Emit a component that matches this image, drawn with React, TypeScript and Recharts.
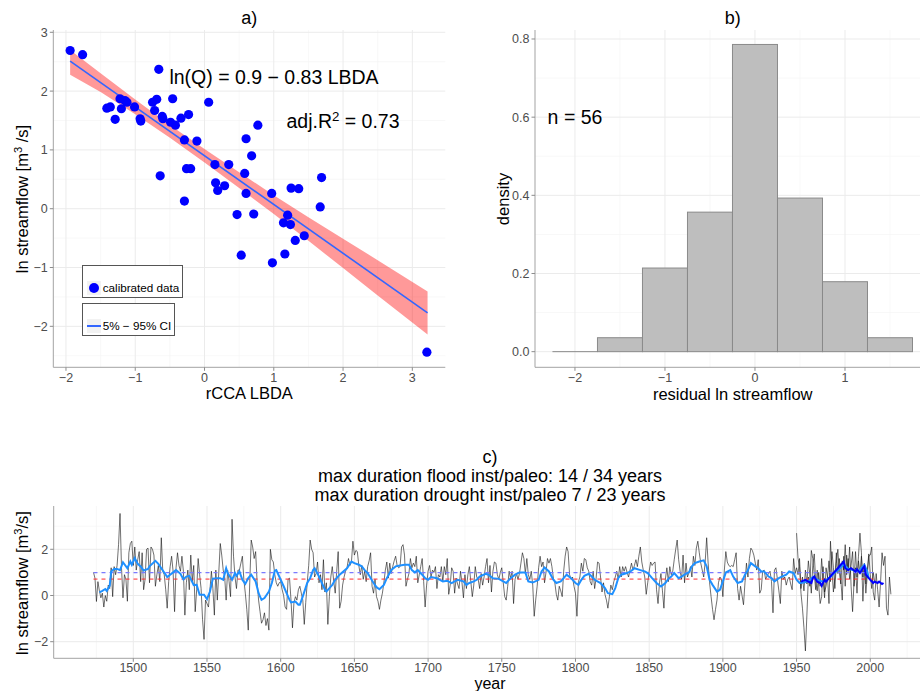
import React from 'react';
import {
  ComposedChart, Scatter, Area, Line, Bar, XAxis, YAxis, CartesianGrid,
} from 'recharts';

const FONT = '"Liberation Sans", Arial, Helvetica, sans-serif';
const BORDER = '#a3a3a3';
const TICK = '#8c8c8c';
const TICK_TEXT = '#4d4d4d';
const GRID_MAJOR = '#ebebeb';
const GRID_MINOR = '#f5f5f5';

// a) calibration scatter
const lbda = [
  -1.94, -1.76, -0.66, -1.41, -1.36, -1.29, -1.2, -1.22, -1.15, -1.12,
  -1.01, -0.93, -0.92, -0.75, -0.69, -0.72, -0.61, -0.6, -0.46, -0.49,
  -0.42, -0.34, -0.23, -0.29, -0.11, 0.06, -0.64, -0.26, -0.2, -0.29,
  0.15, 0.35, 0.16, 0.19, 0.29, 0.6, 0.77, 0.68, 0.58, 0.6,
  0.47, 0.71, 0.53, 0.97, 0.98, 1.16, 1.25, 1.36, 1.14, 1.2,
  1.24, 1.31, 1.44, 1.69, 1.67, 3.21,
];
const lnQ = [
  2.69, 2.62, 2.37, 1.71, 1.73, 1.52, 1.7, 1.87, 1.84, 1.81,
  1.73, 1.53, 1.49, 1.81, 1.86, 1.67, 1.57, 1.53, 1.87, 1.47,
  1.42, 1.54, 1.6, 1.17, 1.15, 1.81, 0.56, 0.68, 0.68, 0.13,
  0.75, 0.75, 0.44, 0.31, 0.39, 1.19, 1.42, 0.9, 0.6, 0.26,
  -0.1, -0.09, -0.79, 0.26, -0.92, -0.77, 0.35, 0.34, -0.24, -0.11,
  -0.27, -0.54, -0.46, 0.53, 0.03, -2.44,
];
const fitX = [-1.94, 3.22];
const fitY = [2.51, -1.77];
const ciX = [-1.94, -1.5, -1, -0.5, 0, 0.5, 1, 1.5, 2, 2.5, 3.22];
const ciLow = [2.28, 1.985, 1.605, 1.205, 0.785, 0.35, -0.09, -0.545, -1.01, -1.475, -2.14];
const ciHigh = [2.7, 2.305, 1.855, 1.425, 1.015, 0.62, 0.23, -0.145, -0.51, -0.875, -1.41];
const aTicksX = [-2, -1, 0, 1, 2, 3];
const aMinorX = [-1.5, -0.5, 0.5, 1.5, 2.5];
const aTicksY = [-2, -1, 0, 1, 2, 3];
const aMinorY = [-2.5, -1.5, -0.5, 0.5, 1.5, 2.5];

// b) residual histogram
const binMid = [-2, -1.5, -1, -0.5, 0, 0.5, 1, 1.5];
const binDensity = [0, 0.0357, 0.214, 0.357, 0.786, 0.393, 0.179, 0.0357];
const bTicksX = [-2, -1, 0, 1];
const bMinorX = [-1.5, -0.5, 0.5, 1.5];
const bTicksY = [0, 0.2, 0.4, 0.6, 0.8];
const bMinorY = [0.1, 0.3, 0.5, 0.7];

// c) reconstruction
const paleoStart = 1473;
const paleoFlow = [
  1.0, 0.75, -0.26, 0.6, 0.2, -0.1, 0.1,
  -0.5, 0.0, -0.25, 0.45, 0.3, 1.2, -0.05, 1.25, 0.9, 1.3,
  2.2, 3.55, 1.2, -0.1, 0.9, 0.7, -0.25, 1.85, 2.25, 2.35,
  1.3, 2.1, 1.1, 1.55, 1.9, 0.6, 1.85, 0.25, 0.7, 2.0,
  2.05, 0.55, 2.1, 2.0, 1.75, 0.4, 0.9, 1.3, 0.6, 2.5,
  1.05, 0.9, 0.25, -0.55, 0.6, 1.25, 1.7, 1.05, -0.7, 1.2,
  1.85, 1.3, 1.05, 1.7, 1.05, -0.85, 0.55, 1.1, 0.25, 1.75,
  0.6, 1.3, -0.7, 0.25, 1.6, 0.9, 0.3, -1.05, -1.9, -0.2,
  -0.35, -0.5, 0.25, 1.05, 0.3, -0.85, 1.1, -0.2, 1.0, 2.25,
  1.75, 1.1, 0.8, -0.2, 1.1, 0.6, -0.05, 3.3, 1.7, 0.8,
  0.3, 1.1, 1.1, 1.4, 1.7, 0.7, 0.1, -0.6, -1.5, 0.55,
  2.4, 2.1, 1.6, 1.9, 0.6, -0.2, -0.7, -1.2, -1.05, -0.75,
  -1.3, -1.0, -1.5, 2.0, 1.55, 1.45, 0.9, 0.55, 0.4, 0.55,
  0.6, 0.25, 0.0, -0.5, -0.6, 0.7, 0.75, -0.2, -1.4, -0.3,
  -0.05, -0.2, 0.25, 0.4, 0.1, -0.2, -1.25, -0.3, 0.55, 1.3,
  2.4, 2.0, 1.85, 0.8, 0.95, 1.45, 0.55, 0.9, 0.25, 1.55,
  0.15, 0.55, -1.25, -0.05, 0.8, 1.25, 0.6, 0.1, 1.05, 1.9,
  -0.55, -0.25, 0.45, 0.8, 1.05, 1.2, 1.6, 1.3, 1.45, 2.35,
  1.75, 1.95, 1.9, 1.3, 0.9, 1.3, 0.7, 1.05, 0.6, 1.25,
  1.5, 1.85, 0.4, 0.1, 0.7, -0.05, -0.25, -0.6, -0.2, 0.1,
  0.55, 1.1, 1.45, 0.75, 1.4, 0.95, 1.25, 1.5, 1.7, 1.3,
  1.2, 1.25, 2.1, 2.2, 1.75, 0.4, 0.7, 0.95, 1.6, 1.2,
  1.4, 1.25, 1.7, 0.55, 0.9, 1.25, 1.6, 0.6, -0.5, 0.45,
  1.05, 1.3, 0.8, 1.1, 1.0, 1.25, 0.3, 0.9, 0.8, 1.25,
  0.6, 1.25, 0.9, 1.6, 0.05, 0.45, 1.2, 1.05, 0.1, 0.75,
  0.5, 0.3, 1.05, 0.55, -0.1, 0.9, 0.3, 0.9, 1.25, 0.6,
  -0.05, 0.45, 1.25, 0.8, 0.7, 0.3, 0.95, 0.45, 0.8, 1.25,
  1.6, 0.55, 1.3, 0.15, 1.05, 1.45, 1.4, 0.9, 0.7, 1.0,
  1.2, 0.55, -0.05, -0.2, 0.4, 1.05, 0.75, 1.05, -0.35, 0.7,
  0.95, 0.7, 0.95, 1.4, 1.85, 1.6, 0.95, 1.6, 0.9, 0.7,
  1.05, 0.45, -0.9, -0.2, 0.4, 1.2, 1.7, 1.25, 1.45, 0.55,
  1.0, 1.6, 1.4, 1.6, 1.25, 0.75, 0.55, 0.05, -0.2, 0.4,
  0.2, -0.05, 1.05, 1.7, 2.1, 1.9, 0.9, 0.7, 0.8, 0.4,
  0.1, -0.9, 0.6, 0.8, 1.4, 1.05, 1.6, 1.55, 1.2, 1.05,
  0.6, 0.45, 1.05, 0.3, 0.75, 1.45, 1.4, 0.8, 0.15, 0.55,
  0.05, -0.2, -0.55, -0.05, 0.45, 0.25, 0.6, 0.8, 1.05, 0.7,
  1.25, 0.8, 1.25, 1.05, 1.25, 1.0, 0.8, 1.1, 1.4, 1.1,
  1.3, 1.55, 1.25, 1.7, 2.1, 1.45, 1.1, 0.8, 0.05, 0.55,
  1.05, 1.45, 1.3, 1.4, 1.45, 0.25, -0.35, 0.55, 0.95, 0.2,
  -0.55, 0.7, 1.2, 0.6, 1.25, 0.9, 1.05, 1.55, 2.0, 2.4,
  1.55, 1.05, 0.7, 1.75, 0.55, 1.4, 0.8, 1.0, 1.25, 0.8,
  1.7, 1.3, 2.05, 2.35, 1.85, 1.4, 1.1, 0.8, 1.45, 2.5,
  1.4, 0.55, -0.05, -0.6, -1.05, -0.6, -0.2, 0.55, 0.8, 0.7,
  -0.05, 1.1, 1.9, 1.45, 1.3, 1.25, 1.3, 1.25, 1.55, 1.85,
  0.3, -0.2, 0.4, 0.0, -0.4, 0.55, 1.4, 0.8, 1.6, 2.05,
  1.95, 1.75, 1.4, 1.1, 1.55, 0.1, 0.25, 1.05, 1.1, 0.7,
  0.85, 0.95, 1.05, 0.6, -0.75, 1.1, 1.2, 0.7, 0.2, -0.35,
  1.05, 0.7, 0.8, 0.45, 0.7, 0.8, 0.5, 0.25, 1.6, 0.95,
  1.2, 0.9, 1.6, 0.3, 0.8, 0.2, 1.1, 0.5, 1.5, 0.9,
  0.1, 1.3, 1.8, 0.6, 0.2, 1.0, 0.4, 1.6, 0.7, -0.1,
  1.2, 0.8, 1.5, 0.6, 1.9, 1.2, 0.3, 1.4, 2.0, 1.0,
  0.5, 1.5, 1.1, 2.2, 0.9, 1.6, 0.7, 1.3, 1.9, 0.4,
  1.2, 0.1, 1.5, 1.0, 1.7, 0.8, 1.4, 0.5, 1.1, 1.8,
  0.9, 0.3, 1.0, 0.6,
];
const instStart = 1950;
const instFlow = [
  2.7, 1.6, 1.25, 0.1, -0.55, -1.4, -2.4, -0.85, 0.8, 0.4,
  1.95, 1.6, 0.9, 0.25, 1.1, 0.45, -0.35, -0.05, 1.25, 0.15,
  0.4, 0.8, -0.35, 2.35, 1.1, 0.15, 0.8, 1.85, 0.95, 1.6,
  0.7, -0.2, 1.7, 0.4, 1.75, 1.05, 2.1, 0.4, -0.7, 0.6,
  1.9, 0.8, 1.7, 2.7, 1.85, -0.25, 1.25, 0.1, 0.9, 1.7,
  1.75, 2.1, 0.15, -0.2, 0.95, 0.25, -0.5, 0.6, 1.85, 1.3,
  1.7, -0.55, -0.85, 0.8, 0.05,
];
const paleoSmooth: [number, number][] = [
  [1477, 0.13], [1479, 0.2], [1481, 0.28], [1482, 0.2], [1484, 0.42], [1485, 1.04], [1487, 1.15],
  [1489, 1.15], [1491, 1.1], [1493, 1.44], [1496, 1.18], [1498, 1.47], [1499, 1.33], [1501, 1.62],
  [1503, 1.37], [1505, 1.26], [1507, 1.08], [1510, 1.15], [1511, 1.26], [1515, 1.5], [1517, 1.37],
  [1519, 1.18], [1522, 0.9], [1523, 0.8], [1525, 0.9], [1527, 1.0], [1529, 1.1], [1532, 0.94],
  [1534, 0.7], [1536, 0.82], [1538, 0.85], [1541, 0.45], [1543, 0.46], [1545, 0.03], [1548, 0.03],
  [1550, -0.16], [1552, 0.17], [1554, 0.73], [1557, 0.75], [1559, 0.75], [1561, 0.68], [1563, 1.18],
  [1564, 0.97], [1567, 0.68], [1569, 0.97], [1570, 0.85], [1572, 1.04], [1574, 0.68], [1576, 0.5],
  [1578, 0.75], [1580, 0.9], [1583, 0.61], [1585, 0.1], [1587, -0.19], [1589, -0.11], [1592, 0.17],
  [1594, 0.54], [1596, 1.07], [1597, 1.1], [1600, 0.68], [1602, 0.4], [1604, 0.1], [1606, -0.19],
  [1607, -0.3], [1610, -0.26], [1612, -0.4], [1613, -0.4], [1615, -0.04], [1618, 0.54], [1620, 0.75],
  [1622, 1.1], [1623, 1.18], [1626, 0.82], [1630, 0.25], [1631, 0.17], [1635, 0.46], [1637, 0.68],
  [1640, 0.9], [1645, 1.18], [1648, 1.47], [1650, 1.4], [1653, 1.33], [1655, 1.26], [1657, 1.1],
  [1659, 0.97], [1663, 0.54], [1665, 0.36], [1667, 0.27], [1670, 0.46], [1672, 0.75], [1675, 1.1],
  [1678, 1.26], [1681, 1.3], [1684, 1.33], [1687, 1.33], [1689, 1.1], [1691, 1.0], [1693, 1.1],
  [1696, 0.9], [1698, 0.75], [1700, 0.68], [1702, 0.8], [1706, 0.75], [1708, 0.68], [1710, 0.61],
  [1713, 0.64], [1716, 0.54], [1718, 0.61], [1720, 0.68], [1724, 0.61], [1726, 0.46], [1728, 0.54],
  [1731, 0.61], [1733, 0.68], [1735, 0.82], [1739, 0.94], [1741, 0.9], [1744, 0.75], [1748, 0.72],
  [1751, 0.61], [1753, 0.54], [1756, 0.75], [1759, 0.9], [1762, 1.0], [1766, 1.0], [1768, 0.61],
  [1771, 0.56], [1775, 0.68], [1777, 1.04], [1779, 1.21], [1782, 1.04], [1785, 0.68], [1787, 0.54],
  [1790, 0.61], [1792, 0.75], [1794, 0.9], [1797, 0.75], [1800, 0.54], [1802, 0.46], [1804, 0.68],
  [1806, 0.85], [1809, 0.94], [1811, 0.82], [1813, 0.68], [1817, 0.54], [1820, 0.32], [1822, 0.1],
  [1825, 0.06], [1827, 0.32], [1829, 0.75], [1831, 0.9], [1835, 0.97], [1838, 1.07], [1840, 1.18],
  [1844, 1.1], [1847, 1.04], [1849, 0.97], [1852, 0.75], [1855, 0.54], [1858, 0.39], [1861, 0.54],
  [1863, 0.72], [1865, 0.82], [1867, 0.97], [1870, 0.75], [1872, 0.82], [1874, 0.9], [1877, 1.0],
  [1879, 1.26], [1881, 1.4], [1884, 1.47], [1887, 1.52], [1889, 1.26], [1891, 0.68], [1893, 0.46],
  [1896, 0.17], [1898, 0.25], [1900, 0.61], [1902, 1.0], [1905, 1.1], [1907, 0.82], [1910, 0.54],
  [1913, 0.61], [1915, 0.9], [1917, 1.1], [1919, 1.4], [1922, 1.26], [1924, 1.18], [1926, 1.04],
  [1928, 1.04], [1931, 0.82], [1933, 0.75], [1935, 0.61], [1938, 0.75], [1940, 0.82], [1943, 0.9],
  [1945, 1.04], [1948, 0.97], [1950, 0.68], [1952, 0.54], [1955, 0.56], [1958, 0.62], [1961, 0.8],
  [1965, 0.65], [1968, 0.6], [1973, 0.8], [1976, 1.0], [1979, 1.15], [1982, 1.35], [1985, 1.15],
  [1988, 1.1], [1992, 1.05], [1996, 1.33], [1998, 1.04], [1999, 0.75],
];
const instSmooth: [number, number][] = [
  [1953, 0.6], [1956, 0.68], [1958, 0.6], [1960, 0.54], [1961, 0.75], [1962, 0.82], [1964, 0.6],
  [1966, 0.54], [1967, 0.42], [1969, 0.68], [1970, 0.6], [1972, 0.75], [1974, 0.9], [1976, 1.04],
  [1978, 1.18], [1980, 1.33], [1982, 1.47], [1983, 1.18], [1985, 1.1], [1987, 1.18], [1990, 1.04],
  [1991, 1.14], [1993, 0.97], [1995, 1.18], [1996, 1.26], [1997, 0.9], [1999, 0.75], [2000, 0.68],
  [2002, 0.54], [2003, 0.6], [2005, 0.54], [2006, 0.6], [2008, 0.5], [2009, 0.54],
];
const floodLevel = 0.99;
const droughtLevel = 0.71;
const cTicksX = [1500, 1550, 1600, 1650, 1700, 1750, 1800, 1850, 1900, 1950, 2000];
const cMinorX = [1475, 1525, 1575, 1625, 1675, 1725, 1775, 1825, 1875, 1925, 1975, 2025];
const cTicksY = [-2, 0, 2];
const cMinorY = [-1, 1, 3];

const points = lbda.map((x, i) => ({ x, y: lnQ[i] }));
const fitRows = fitX.map((x, i) => ({ x, fit: fitY[i] }));
const ciRows = ciX.map((x, i) => ({ x, ci: [ciLow[i], ciHigh[i]] }));
const histRows = binMid.map((mid, i) => ({ mid, density: binDensity[i] }));
const paleoRows = paleoFlow.map((v, i) => ({ year: paleoStart + i, v }));
const instRows = instFlow.map((v, i) => ({ year: instStart + i, v }));
const paleoSmoothRows = paleoSmooth.map(([year, v]) => ({ year, v }));
const instSmoothRows = instSmooth.map(([year, v]) => ({ year, v }));
const paleoEnd = paleoStart + paleoFlow.length - 1;
const floodRows = [{ year: paleoStart, v: floodLevel }, { year: paleoEnd, v: floodLevel }];
const droughtRows = [{ year: paleoStart, v: droughtLevel }, { year: paleoEnd, v: droughtLevel }];

const minus = (v: number) => (v < 0 ? `\u2212${Math.abs(v)}` : `${v}`);
const tickStyle = { fontSize: 12.5, fill: TICK_TEXT, fontFamily: FONT };
const axisBase = {
  tickSize: 3.5,
  tickMargin: 2,
  tickLine: { stroke: TICK },
  axisLine: { stroke: BORDER },
  tick: tickStyle,
  allowDataOverflow: true,
  interval: 0 as const,
};

const Txt = ({ x, y, size, left, rotate, children }: any) => (
  <div
    style={{
      position: 'absolute',
      left: x,
      top: y,
      transform: `translate(${left ? '0' : '-50%'}, -50%)${rotate ? ' rotate(-90deg)' : ''}`,
      fontSize: size,
      lineHeight: 1,
      whiteSpace: 'nowrap',
      color: '#000',
    }}
  >
    {children}
  </div>
);

const Sup = ({ children }: any) => (
  <sup style={{ fontSize: '0.68em', lineHeight: 0, verticalAlign: '0.55em' }}>{children}</sup>
);

const HistBar = (props: any) => {
  const { x, y, width, height } = props;
  if (!height) return <line x1={x} x2={x + width} y1={y} y2={y} stroke="#8a8a8a" strokeWidth={1} />;
  return <rect x={x} y={y} width={width} height={height} fill="#bebebe" stroke="#8a8a8a" strokeWidth={1} />;
};

const Frame = (domX: number[], domY: number[]) => [
  <XAxis key="top" xAxisId="top" orientation="top" type="number" domain={domX} allowDataOverflow
    height={0} tick={false} tickLine={false} axisLine={{ stroke: BORDER }} />,
  <YAxis key="right" yAxisId="right" orientation="right" type="number" domain={domY} allowDataOverflow
    width={0} tick={false} tickLine={false} axisLine={{ stroke: BORDER }} />,
];

const Grids = (minX: number[], minY: number[], majX: number[], majY: number[]) => [
  <CartesianGrid key="minor" stroke={GRID_MINOR} strokeWidth={0.7} verticalValues={minX} horizontalValues={minY} />,
  <CartesianGrid key="major" stroke={GRID_MAJOR} strokeWidth={1} verticalValues={majX} horizontalValues={majY} />,
];

const legendBox: React.CSSProperties = {
  position: 'absolute', border: '1px solid #555', background: '#fff', boxSizing: 'border-box',
};
const keyBox: React.CSSProperties = {
  position: 'absolute', left: 4, width: 14, height: 14, background: '#f2f2f2',
};

export default function App() {
  const domAX = [-2.183, 3.476];
  const domAY = [-2.697, 3.039];
  const domBX = [-2.444, 1.95];
  const domBY = [-0.04, 0.823];
  const domCX = [1446, 2041];
  const domCY = [-2.719, 3.874];

  return (
    <div style={{ position: 'absolute', left: 0, top: 0, width: 920, height: 691, overflow: 'hidden', background: '#fff', fontFamily: FONT }}>
      {/* a) */}
      <div style={{ position: 'absolute', left: 0, top: 0 }}>
        <ComposedChart width={460} height={400} margin={{ top: 30, right: 14.7, bottom: 0, left: 0 }}>
          {Grids(aMinorX, aMinorY, aTicksX, aTicksY)}
          <XAxis type="number" dataKey="x" domain={domAX} ticks={aTicksX} height={32.7} tickFormatter={minus} {...axisBase} />
          <YAxis type="number" domain={domAY} ticks={aTicksY} width={53.3} tickFormatter={minus} {...axisBase} />
          {Frame(domAX, domAY)}
          <Scatter data={points} dataKey="y" isAnimationActive={false}
            shape={(p: any) => <circle cx={p.cx} cy={p.cy} r={4.6} fill="#0000ff" />} />
          <Area data={ciRows} dataKey="ci" type="linear" fill="#ff0000" fillOpacity={0.4} stroke="none" isAnimationActive={false} />
          <Line data={fitRows} dataKey="fit" type="linear" stroke="#3366ff" strokeWidth={1.6} dot={false} isAnimationActive={false} />
        </ComposedChart>
      </div>
      <Txt x={249.3} y={18} size={18}>a)</Txt>
      <Txt x={274} y={78} size={19.5}>ln(Q) = 0.9 − 0.83 LBDA</Txt>
      <Txt x={343} y={121.7} size={19.5}>adj.R<Sup>2</Sup> = 0.73</Txt>
      <Txt x={249.3} y={393} size={16.5}>rCCA LBDA</Txt>
      <Txt x={21.7} y={199} size={16.5} rotate>ln streamflow [m<Sup>3</Sup> /s]</Txt>
      <div style={{ ...legendBox, left: 81.7, top: 265, width: 101, height: 33 }}>
        <div style={{ ...keyBox, top: 15 }}>
          <div style={{ position: 'absolute', left: 2, top: 2, width: 10, height: 10, borderRadius: 5, background: '#0000ff' }} />
        </div>
        <div style={{ position: 'absolute', left: 20, top: 22, transform: 'translateY(-50%)', fontSize: 11.7, lineHeight: 1, whiteSpace: 'nowrap' }}>calibrated data</div>
      </div>
      <div style={{ ...legendBox, left: 81.7, top: 302.5, width: 93, height: 33 }}>
        <div style={{ ...keyBox, top: 15 }}>
          <div style={{ position: 'absolute', left: 0, top: 6, width: 14, height: 2, background: '#3366ff' }} />
        </div>
        <div style={{ position: 'absolute', left: 20, top: 22.5, transform: 'translateY(-50%)', fontSize: 11.7, lineHeight: 1, whiteSpace: 'nowrap' }}>5% − 95% CI</div>
      </div>

      {/* b) */}
      <div style={{ position: 'absolute', left: 460, top: 0 }}>
        <ComposedChart data={histRows} width={480} height={400} margin={{ top: 30, right: 9.5, bottom: 0, left: 0 }} barCategoryGap={0} barGap={0}>
          {Grids(bMinorX, bMinorY, bTicksX, bTicksY)}
          <XAxis type="number" dataKey="mid" domain={domBX} ticks={bTicksX} height={32.7} tickFormatter={minus} {...axisBase} />
          <YAxis type="number" domain={domBY} ticks={bTicksY} width={75} tickFormatter={(v: number) => v.toFixed(1)} {...axisBase} />
          {Frame(domBX, domBY)}
          <Bar dataKey="density" shape={HistBar} isAnimationActive={false} />
        </ComposedChart>
      </div>
      <Txt x={732.7} y={18} size={18}>b)</Txt>
      <Txt x={575} y={118} size={19.5}>n = 56</Txt>
      <Txt x={732.7} y={394} size={16.5}>residual ln streamflow</Txt>
      <Txt x={502.7} y={199} size={16.5} rotate>density</Txt>

      {/* c) */}
      <div style={{ position: 'absolute', left: 0, top: 440 }}>
        <ComposedChart width={940} height={251} margin={{ top: 66, right: 9.3, bottom: 0, left: 0 }}>
          {Grids(cMinorX, cMinorY, cTicksX, cTicksY)}
          <XAxis type="number" dataKey="year" domain={domCX} ticks={cTicksX} height={32.7} {...axisBase} tickMargin={1} />
          <YAxis type="number" domain={domCY} ticks={cTicksY} width={53.7} tickFormatter={minus} {...axisBase} />
          {Frame(domCX, domCY)}
          <Line data={paleoRows} dataKey="v" stroke="#111" strokeWidth={0.6} dot={false} isAnimationActive={false} />
          <Line data={instRows} dataKey="v" stroke="#111" strokeWidth={0.6} dot={false} isAnimationActive={false} />
          <Line data={floodRows} dataKey="v" stroke="#7a7aff" strokeWidth={1.4} strokeDasharray="4 4" dot={false} isAnimationActive={false} />
          <Line data={droughtRows} dataKey="v" stroke="#ff2a2a" strokeWidth={1} strokeDasharray="4 4" dot={false} isAnimationActive={false} />
          <Line data={paleoSmoothRows} dataKey="v" stroke="#1e90ff" strokeWidth={2} dot={false} isAnimationActive={false} />
          <Line data={instSmoothRows} dataKey="v" stroke="#0000ff" strokeWidth={2} dot={false} isAnimationActive={false} />
        </ComposedChart>
      </div>
      <Txt x={490} y={456.7} size={18}>c)</Txt>
      <Txt x={490} y={475.7} size={18}>max duration flood inst/paleo: 14 / 34 years</Txt>
      <Txt x={490} y={495} size={18}>max duration drought inst/paleo 7 / 23 years</Txt>
      <Txt x={490} y={683.5} size={16}>year</Txt>
      <Txt x={21.7} y={582.5} size={16.5} rotate>ln streamflow [m<Sup>3</Sup>/s]</Txt>
    </div>
  );
}
